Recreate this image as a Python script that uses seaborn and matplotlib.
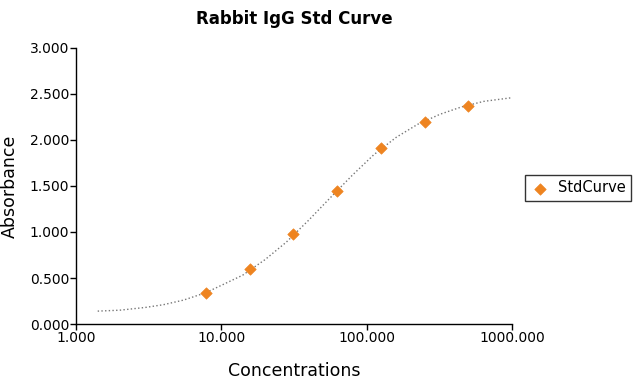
import matplotlib
matplotlib.use("Agg")
import matplotlib.pyplot as plt
import seaborn as sns
import pandas as pd
from matplotlib.ticker import FormatStrFormatter, FixedLocator, NullLocator

# standard points
conc = [7.8125, 15.625, 31.25, 62.5, 125, 250, 500]
absorbance = [0.336, 0.603, 0.979, 1.443, 1.918, 2.200, 2.371]

# fitted curve
fit_x = [1.41, 2, 3, 4, 5.5, 7.8, 10, 14, 20, 28, 40, 56, 80, 112, 160, 224, 320, 450, 640, 1000]
fit_y = [0.14, 0.15, 0.18, 0.21, 0.26, 0.34, 0.42, 0.53, 0.70, 0.89, 1.13, 1.37, 1.62, 1.84, 2.03, 2.17, 2.28, 2.36, 2.42, 2.46]

y_ticks = [0, 0.5, 1.0, 1.5, 2.0, 2.5, 3.0]
x_ticks = [1, 10, 100, 1000]

sns.set_style("white")
plt.rcParams["font.family"] = ["DejaVu Sans"]
plt.rcParams["text.color"] = "black"
plt.rcParams["axes.labelcolor"] = "black"
plt.rcParams["xtick.color"] = "black"
plt.rcParams["ytick.color"] = "black"

points = pd.DataFrame({"Concentrations": conc, "Absorbance": absorbance})
curve = pd.DataFrame({"x": fit_x, "y": fit_y})

fig = plt.figure(figsize=(6.39, 3.79), dpi=100)
ax = fig.add_axes([76 / 639, 1 - 324 / 379, (512 - 76) / 639, (324 - 48) / 379])

sns.lineplot(data=curve, x="x", y="y", ax=ax, sort=False, estimator=None,
             color="#777777", linestyle=":", linewidth=1.0)
sns.scatterplot(data=points, x="Concentrations", y="Absorbance", ax=ax,
                marker="D", s=34, color="#EE8420", edgecolor="#EE8420",
                label="StdCurve", zorder=3)

ax.set_xscale("log")
ax.set_xlim(1, 1000)
ax.set_ylim(0, 3)
ax.xaxis.set_major_locator(FixedLocator(x_ticks))
ax.xaxis.set_minor_locator(NullLocator())
ax.xaxis.set_major_formatter(FormatStrFormatter("%.3f"))
ax.set_yticks(y_ticks)
ax.yaxis.set_major_formatter(FormatStrFormatter("%.3f"))
ax.tick_params(axis="both", direction="out", length=4, width=1, color="black",
               labelsize=10, labelcolor="black", pad=1, left=True, bottom=True)

for side in ["top", "right"]:
    ax.spines[side].set_visible(False)
for side in ["left", "bottom"]:
    ax.spines[side].set_color("black")
    ax.spines[side].set_linewidth(1)

ax.set_xlabel("Concentrations", fontsize=12.5, labelpad=12, color="black")
ax.set_ylabel("Absorbance", fontsize=12.5, labelpad=8, color="black")
ax.set_title("Rabbit IgG Std Curve", fontsize=12, fontweight="bold", pad=17,
             color="black")

ax.get_legend().remove()
handles, labels = ax.get_legend_handles_labels()
leg = fig.legend(handles, labels, loc="center left",
                 bbox_to_anchor=(525 / 639, 1 - 188 / 379), fontsize=10.5,
                 frameon=True, fancybox=False, edgecolor="black",
                 handletextpad=0.5, borderpad=0.35, handlelength=1.4,
                 borderaxespad=0)
leg.get_frame().set_linewidth(1)

fig.savefig("out.png", dpi=100)
